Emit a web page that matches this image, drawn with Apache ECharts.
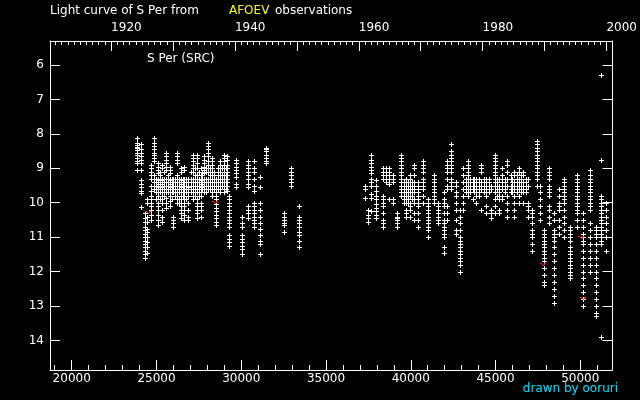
<!DOCTYPE html>
<html><head><meta charset="utf-8">
<script src="https://cdn.jsdelivr.net/npm/echarts@6/dist/echarts.min.js"></script>
<style>html,body{margin:0;padding:0;background:#000}#c{width:640px;height:400px}</style>
</head><body><div id="c"></div>
<script>
// ---- data (JD - 2400000, visual magnitude) ----
const seasonJD = [
  23850,24100,24300,24450,24650,24850,25080,25300,25550,25780,26000,26200,26430,26650,26880,
  27150,27380,27600,27820,28030,28250,28500,28750,28980,29180,29300,29700,30050,30400,30760,
  31100,31440,32550,32950,33380,
  37300,37500,37650,37970,38350,38700,38950,39200,39450,39700,39950,40200,40450,40750,41000,
  41350,41600,41950,42150,42400,42650,42880,43080,43400,43650,43850,44150,44450,44750,44950,
  45200,45400,45700,45900,46100,46400,46650,46900,47150,47450,47600,47850,48150,48450,48750,
  49050,49400,49800,50150,50550,50900,51250,51500
];
const seasonMags = [
  [8.12,8.27,8.32,8.37,8.42,8.47,8.55,8.62,8.7,8.78,8.85,9.04],
  [8.3,8.45,8.55,8.65,8.75,8.85,9.04,9.35,9.45,9.55,9.65,9.72,10.13],
  [10.3,10.45,10.55,10.7,10.8,10.9,11.0,11.1,11.2,11.3,11.4,11.5,11.6],
  [9.9,10.0,10.4,10.55,10.75,10.85,11.0,11.15,11.3,11.45],
  [8.9,9.0,9.1,9.2,9.3,9.5,9.65,9.8,9.9,10.0,10.1,10.2,10.35,10.5],
  [8.12,8.27,8.35,8.45,8.55,8.62,8.7,8.78,9.2,9.3,9.4,9.5,9.6],
  [8.85,8.95,9.05,9.15,9.3,9.35,9.4,9.45,9.5,9.55,9.6,9.7,9.8,10.0,10.1,10.2,10.35,10.5,10.65],
  [8.9,9.0,9.3,9.35,9.4,9.45,9.5,9.55,9.6,9.7,9.8,9.9,10.0,10.2,10.4,10.55],
  [8.55,8.65,8.75,8.85,8.95,9.05,9.3,9.4,9.5,9.6,9.7,9.85,10.0,10.15],
  [8.95,9.05,9.15,9.3,9.35,9.4,9.45,9.5,9.55,9.6,9.7,9.8,9.95,10.1],
  [9.3,9.4,9.5,9.6,9.7,10.4,10.5,10.6,10.7],
  [8.55,8.65,8.75,8.85,9.2,9.3,9.4,9.5,9.6,9.7,9.8,9.9,10.0],
  [9.0,9.1,9.3,9.35,9.4,9.45,9.5,9.55,9.6,9.7,9.8,9.9,10.0,10.1,10.2,10.3,10.45],
  [8.95,9.05,9.3,9.4,9.5,9.6,9.7,9.8,9.9,10.0,10.1,10.2,10.35,10.5],
  [9.3,9.4,9.5,9.55,9.6,9.7,9.8,10.0,10.2,10.4,10.5],
  [8.6,8.7,8.8,8.9,9.0,9.1,9.3,9.4,9.5,9.6,9.7,9.8,9.9],
  [8.6,8.7,8.85,9.0,9.2,9.3,9.4,9.5,9.6,9.7,9.9,10.0,10.1,10.2,10.3,10.45],
  [9.0,9.2,9.3,9.35,9.4,9.45,9.5,9.55,9.6,9.7,9.8,10.0,10.1,10.2,10.4],
  [8.65,8.75,8.85,8.95,9.05,9.15,9.3,9.4,9.5,9.6,9.7],
  [8.27,8.35,8.45,8.55,8.65,8.8,8.9,9.0,9.1,9.3,9.4,9.5,9.6],
  [8.7,8.8,8.9,9.0,9.1,9.2,9.3,9.4,9.5,9.6,9.7,9.8],
  [9.3,9.4,9.5,9.6,9.7,9.8,9.9,10.05,10.15,10.25,10.35,10.45,10.55,10.65],
  [8.8,8.9,9.0,9.1,9.2,9.3,9.4,9.5,9.6,9.7],
  [8.6,8.7,8.8,8.9,9.0,9.1,9.2,9.3,9.4,9.5,9.6,9.7],
  [8.65,8.75,8.9,9.0,9.1,9.2,9.3,9.4,9.5,9.65],
  [9.8,9.9,10.0,10.1,10.2,10.3,10.4,10.5,10.6,10.7,10.95,11.05,11.15,11.25],
  [8.75,8.85,8.95,9.05,9.15,9.25,9.45,9.55],
  [10.4,10.6,10.7,10.95,11.05,11.15,11.25,11.35,11.5],
  [8.8,8.9,9.0,9.1,9.2,9.3,9.45,9.55,10.1,10.2,10.3,10.45],
  [8.8,9.0,9.1,9.3,9.5,9.65,10.0,10.1,10.2,10.3,10.4,10.5,10.6,10.7],
  [9.25,9.55,10.0,10.2,10.4,10.6,10.75,10.95,11.1,11.2,11.5],
  [8.4,8.45,8.5,8.6,8.7,8.8,8.85],
  [10.3,10.4,10.5,10.6,10.65,10.85],
  [9.0,9.1,9.2,9.3,9.4,9.5],
  [10.1,10.4,10.5,10.6,10.7,10.85,10.95,11.1,11.3],
  [9.5,9.6,9.85],
  [10.2,10.35,10.45,10.55],
  [8.6,8.75,8.85,8.95,9.05,9.15,9.3,9.4,9.5,9.75,9.85,10.25],
  [9.35,9.5,9.65,9.8,9.9,10.05,10.15,10.25,10.35,10.45],
  [9.0,9.1,9.2,9.3,9.8,9.9,10.0,10.1,10.3,10.5,10.6,10.7],
  [9.0,9.1,9.2,9.3,9.45,9.9],
  [9.2,9.3,9.4,9.9,10.0],
  [10.3,10.4,10.45,10.5,10.6,10.7],
  [8.6,8.7,8.8,8.9,9.0,9.1,9.2,9.3,9.4,9.5,9.6,9.7,9.8],
  [9.3,9.4,9.5,9.6,9.7,9.8,9.9,10.0,10.2,10.3,10.4],
  [9.2,9.3,9.4,9.5,9.6,9.7,9.8,10.0,10.1,10.2,10.4],
  [8.9,9.0,9.2,9.4,9.5,9.6,9.7,9.9,10.0,10.3,10.5],
  [9.4,9.5,9.6,9.7,9.8,9.9,10.0,10.1,10.3,10.5,10.7],
  [8.8,8.9,9.0,9.1,9.3,9.4,9.5,9.6,9.8,10.0],
  [9.9,10.0,10.1,10.2,10.3,10.4,10.5,10.6,10.7,10.8,11.0],
  [9.2,9.3,9.4,9.5,9.6,9.7,9.8,9.9,10.0],
  [10.0,10.1,10.2,10.3,10.4,10.5,10.6],
  [9.7,9.9,10.0,10.1,10.3,10.5,10.6,10.7,10.8,10.9,11.0,11.3,11.45],
  [8.8,8.9,9.0,9.1,9.3,9.5,9.6,10.1,10.3,10.5],
  [8.3,8.5,8.6,8.7,8.8,8.9,9.0,9.1,9.3,9.4,9.5,9.6],
  [9.4,9.5,9.7,9.8,10.0,10.2,10.5,10.8,10.9],
  [10.2,10.4,10.6,10.8,11.0,11.1,11.2,11.3,11.4,11.5,11.6,11.7,11.8,12.0],
  [9.0,9.2,9.4,9.6,9.8,10.0,10.2],
  [8.8,8.9,9.0,9.1,9.2,9.3,9.4,9.5,9.6,9.7,9.8],
  [9.3,9.4,9.5,9.6,9.9],
  [9.3,9.4,9.5,9.6,9.7,9.8,10.0],
  [8.9,9.0,9.1,9.4,9.5,9.6,10.2],
  [9.3,9.4,9.5,9.6,9.7,9.8,10.1,10.3],
  [9.5,9.6,10.2,10.3,10.45],
  [8.6,8.7,8.8,8.9,9.0,9.1,9.2,9.3,9.4,9.5,9.7,9.9,10.1,10.3],
  [9.3,9.5,9.7,9.8,9.9,10.2,10.3],
  [9.0,9.2,9.3,9.4,9.5,9.6,9.8,9.9],
  [8.8,8.9,9.1,9.3,9.5,9.8,10.0,10.2,10.4],
  [9.2,9.3,9.5,9.6,9.7],
  [9.1,9.2,9.4,9.5,9.6,9.8,10.0,10.2,10.4],
  [9.0,9.1,9.3,9.4,9.5,9.6,9.8,10.0],
  [9.1,9.2,9.4,9.5,9.6,9.7,10.0],
  [9.3,9.5,10.0,10.1,10.2,10.4],
  [10.2,10.3,10.4,10.6,10.8,10.9,11.0,11.2,11.4],
  [8.2,8.3,8.4,8.5,8.6,8.7,8.8,8.9,9.0,9.1,9.2,9.3,9.5],
  [9.5,9.7,9.9,10.1,10.3,10.5],
  [10.8,10.9,11.0,11.1,11.2,11.3,11.4,11.5,11.6,11.7,11.9,12.1,12.3,12.4],
  [9.0,9.1,9.2,9.3,9.5,9.6,9.7,9.8,10.1,10.2,10.4,10.6],
  [10.3,10.5,10.8,10.9,11.0,11.1,11.3,11.5,11.7,11.9,12.1,12.3,12.5,12.7,12.9],
  [9.6,9.8,10.0,10.1,10.2,10.5,10.7,10.9],
  [9.3,9.4,9.5,9.6,9.7,9.8,9.9,10.0,10.2,10.4,10.6,10.8,11.0],
  [10.7,10.8,10.9,11.0,11.1,11.3,11.4,11.5,11.6,11.7,11.8,11.9,12.0,12.1,12.2],
  [9.2,9.3,9.4,9.5,9.6,9.7,9.8,9.9,10.0,10.1,10.2,10.3,10.5,10.7],
  [10.3,10.5,10.7,10.9,11.0,11.1,11.2,11.4,11.6,11.8,12.0,12.2,12.4,12.6,12.8,13.0],
  [9.05,9.2,9.3,9.4,9.5,9.6,9.7,9.8,9.9,10.0,10.1,10.2,10.6,10.8,11.0,11.2,11.4,11.6,11.8,12.0],
  [10.7,10.8,10.9,11.0,11.2,11.4,11.6,11.8,12.0,12.2,12.4,12.6,12.8,13.0,13.2,13.3],
  [6.3,8.75,9.8,9.9,10.0,10.1,10.2,10.3,10.4,10.5,10.6,10.7,10.8,10.9,11.0,11.1,11.2,13.9],
  [10.0,10.2,10.4,10.6,10.8,11.0,11.4]
];
// additional observation clusters inside the crowded 9.0-10.0 bands
const bandJD = [
  24960,25190,25420,25660,25890,26100,26310,26540,26760,27010,27260,27490,27710,27920,28140,28380,28620,28860,29080,
  38550,39580,39830,40080,43250,43520,43750,44000,44300,44600,45080,45550,46000,46250,46520,46780
];
const bandMags = [
  [9.3,9.4,9.5,9.6,9.7,9.9],
  [9.1,9.2,9.3,9.4,9.5,9.6,9.7,9.9],
  [9.1,9.3,9.4,9.5,9.6,9.7,9.8],
  [9.2,9.3,9.4,9.5,9.6,9.7],
  [9.3,9.4,9.5,9.6,9.7,9.9],
  [9.3,9.4,9.5,9.6,9.7,9.8],
  [9.3,9.4,9.5,9.6,9.7,9.9,10.0],
  [9.3,9.4,9.5,9.6,9.7,9.8],
  [9.3,9.4,9.5,9.6,9.7,9.9],
  [9.1,9.3,9.4,9.5,9.6,9.7],
  [9.0,9.2,9.3,9.4,9.5,9.6,9.7,9.8],
  [9.1,9.3,9.4,9.5,9.6,9.7,9.8],
  [9.1,9.2,9.3,9.4,9.5,9.6],
  [9.0,9.1,9.3,9.4,9.5,9.6,9.7],
  [9.0,9.1,9.2,9.3,9.4,9.5,9.6],
  [9.1,9.2,9.3,9.4,9.5,9.6],
  [9.0,9.1,9.2,9.3,9.4,9.5,9.6],
  [9.0,9.2,9.3,9.4,9.5],
  [9.0,9.2,9.3,9.4,9.5,9.6],
  [9.0,9.1,9.2,9.3,9.4],
  [9.4,9.5,9.6,9.7,9.8,9.9,10.0],
  [9.4,9.5,9.6,9.7,9.8,9.9,10.0],
  [9.4,9.5,9.6,9.7,9.8,9.9],
  [9.3,9.4,9.5,9.6,9.7],
  [9.3,9.4,9.5,9.6,9.7],
  [9.3,9.4,9.5,9.6,9.7],
  [9.3,9.4,9.5,9.6,9.7,9.8],
  [9.3,9.4,9.5,9.6,9.7],
  [9.3,9.4,9.5,9.6,9.7],
  [9.3,9.4,9.5,9.6,9.8],
  [9.3,9.4,9.5,9.6,9.7],
  [9.3,9.4,9.5,9.6,9.7],
  [9.2,9.3,9.4,9.5,9.6,9.7],
  [9.2,9.3,9.4,9.5,9.6,9.7],
  [9.3,9.4,9.5,9.6,9.7]
];
// "fainter than" observations (red)
const limitJD  = [24490, 28430, 47810, 50030, 50170];
const limitMag = [10.26, 9.97, 11.78, 10.99, 12.78];
// axes
const jdMajorTicks = [20000,25000,30000,35000,40000,45000,50000];
const jdMinorTicks = [19000,20000,21000,22000,23000,24000,25000,26000,27000,28000,29000,30000,31000,32000,33000,34000,35000,36000,37000,38000,39000,40000,41000,42000,43000,44000,45000,46000,47000,48000,49000,50000,51000];
const yearLabels = [1920,1940,1960,1980,2000];
const yearMajor = [1920,1930,1940,1950,1960,1970,1980,1990,2000];
const yearFirst = 1911, yearLast = 2000;
const magTicks = [6,7,8,9,10,11,12,13,14];
const jdMin = 18720, jdMax = 51900, magMin = 5.3, magMax = 14.86;

function yearToJD(y){ return 51544.5 + (y - 2000) * 365.25; }
function jdToYear(j){ return Math.round(2000 + (j - 51544.5) / 365.25); }
const yearMinor = [];
for (let y = yearFirst; y <= yearLast; y++) yearMinor.push(yearToJD(y));

const obs = [];
seasonJD.forEach((j, i) => seasonMags[i].forEach(m => obs.push([j, m])));
bandJD.forEach((j, i) => bandMags[i].forEach(m => obs.push([j, m])));
const lim = limitJD.map((j, i) => [j, limitMag[i]]);

const chart = echarts.init(document.getElementById('c'), null, {renderer: 'canvas'});
const F = 'DejaVu Sans';
const line = {show: true, lineStyle: {color: '#fff', width: 1}};
function xa(pos, ticks, len, labels, extra){
  return {
    type: 'value', position: pos, min: jdMin, max: jdMax,
    axisLine: line,
    axisTick: {show: true, inside: true, length: len, customValues: ticks, lineStyle: {color: '#fff'}},
    axisLabel: labels ? Object.assign({show: true, customValues: labels, color: '#fff', fontFamily: F, fontSize: 12}, extra) : {show: false},
    splitLine: {show: false}
  };
}
const xAxes = [
  xa('bottom', jdMajorTicks, 10, jdMajorTicks, {margin: 3, formatter: v => String(v)}),
  Object.assign(xa('bottom', jdMinorTicks, 5, null), {axisLine: {show: false}}),
  xa('top', yearMajor.map(yearToJD), 10, yearLabels.map(yearToJD), {margin: 7, align: 'left', formatter: v => String(jdToYear(v))}),
  Object.assign(xa('top', yearMinor, 4, null), {axisLine: {show: false}})
];
const yAxes = [
  {type: 'value', position: 'left', inverse: true, min: magMin, max: magMax, axisLine: line,
   axisTick: {show: true, inside: true, length: 10, customValues: magTicks, lineStyle: {color: '#fff'}},
   axisLabel: {show: true, customValues: magTicks, color: '#fff', fontFamily: F, fontSize: 12, margin: 6},
   splitLine: {show: false}},
  {type: 'value', position: 'right', inverse: true, min: magMin, max: magMax, axisLine: line,
   axisTick: {show: true, inside: true, length: 10, customValues: magTicks, lineStyle: {color: '#fff'}},
   axisLabel: {show: false}, splitLine: {show: false}}
];
// crisp pixel "+" marker
function plusItem(params, api){
  const p = api.coord([api.value(0), api.value(1)]);
  const x = Math.round(p[0]), y = Math.round(p[1]);
  return {type: 'group', children: [
    {type: 'rect', shape: {x: x - 2, y: y, width: 5, height: 1}, style: {fill: '#fff'}},
    {type: 'rect', shape: {x: x, y: y - 2, width: 1, height: 5}, style: {fill: '#fff'}}
  ]};
}
function vItem(params, api){
  const p = api.coord([api.value(0), api.value(1)]);
  const x = Math.round(p[0]), y = Math.round(p[1]);
  const r = (a, b) => ({type: 'rect', shape: {x: x + a, y: y + b, width: 1, height: 1}, style: {fill: '#ff2020'}});
  return {type: 'group', children: [r(-2,-1), r(-1,0), r(0,1), r(1,0), r(2,-1), r(-3,-1), r(1,-1)]};
}
chart.setOption({
  backgroundColor: '#000',
  animation: false,
  grid: {left: 50, right: 20, top: 41, bottom: 30, containLabel: false},
  xAxis: xAxes,
  yAxis: yAxes,
  series: [
    {type: 'custom', xAxisIndex: 0, yAxisIndex: 0, data: obs, renderItem: plusItem, silent: true,
     encode: {x: 0, y: 1}},
    {type: 'custom', xAxisIndex: 0, yAxisIndex: 0, data: lim, renderItem: vItem, silent: true, z: 3,
     encode: {x: 0, y: 1}}
  ],
  graphic: [
    {type: 'text', left: 50, top: 5, style: {text: 'Light curve of S Per from', fill: '#fff', font: '12px "DejaVu Sans"'}},
    {type: 'text', left: 229, top: 5, style: {text: 'AFOEV', fill: '#ffff00', font: '12px "DejaVu Sans"'}},
    {type: 'text', left: 275, top: 5, style: {text: 'observations', fill: '#fff', font: '12px "DejaVu Sans"'}},
    {type: 'text', left: 147, top: 53, style: {text: 'S Per (SRC)', fill: '#fff', font: '12px "DejaVu Sans"'}},
    {type: 'text', right: 22, top: 383, style: {text: 'drawn by ooruri', fill: '#00e0ff', font: '12px "DejaVu Sans"'}}
  ]
});
</script></body></html>
